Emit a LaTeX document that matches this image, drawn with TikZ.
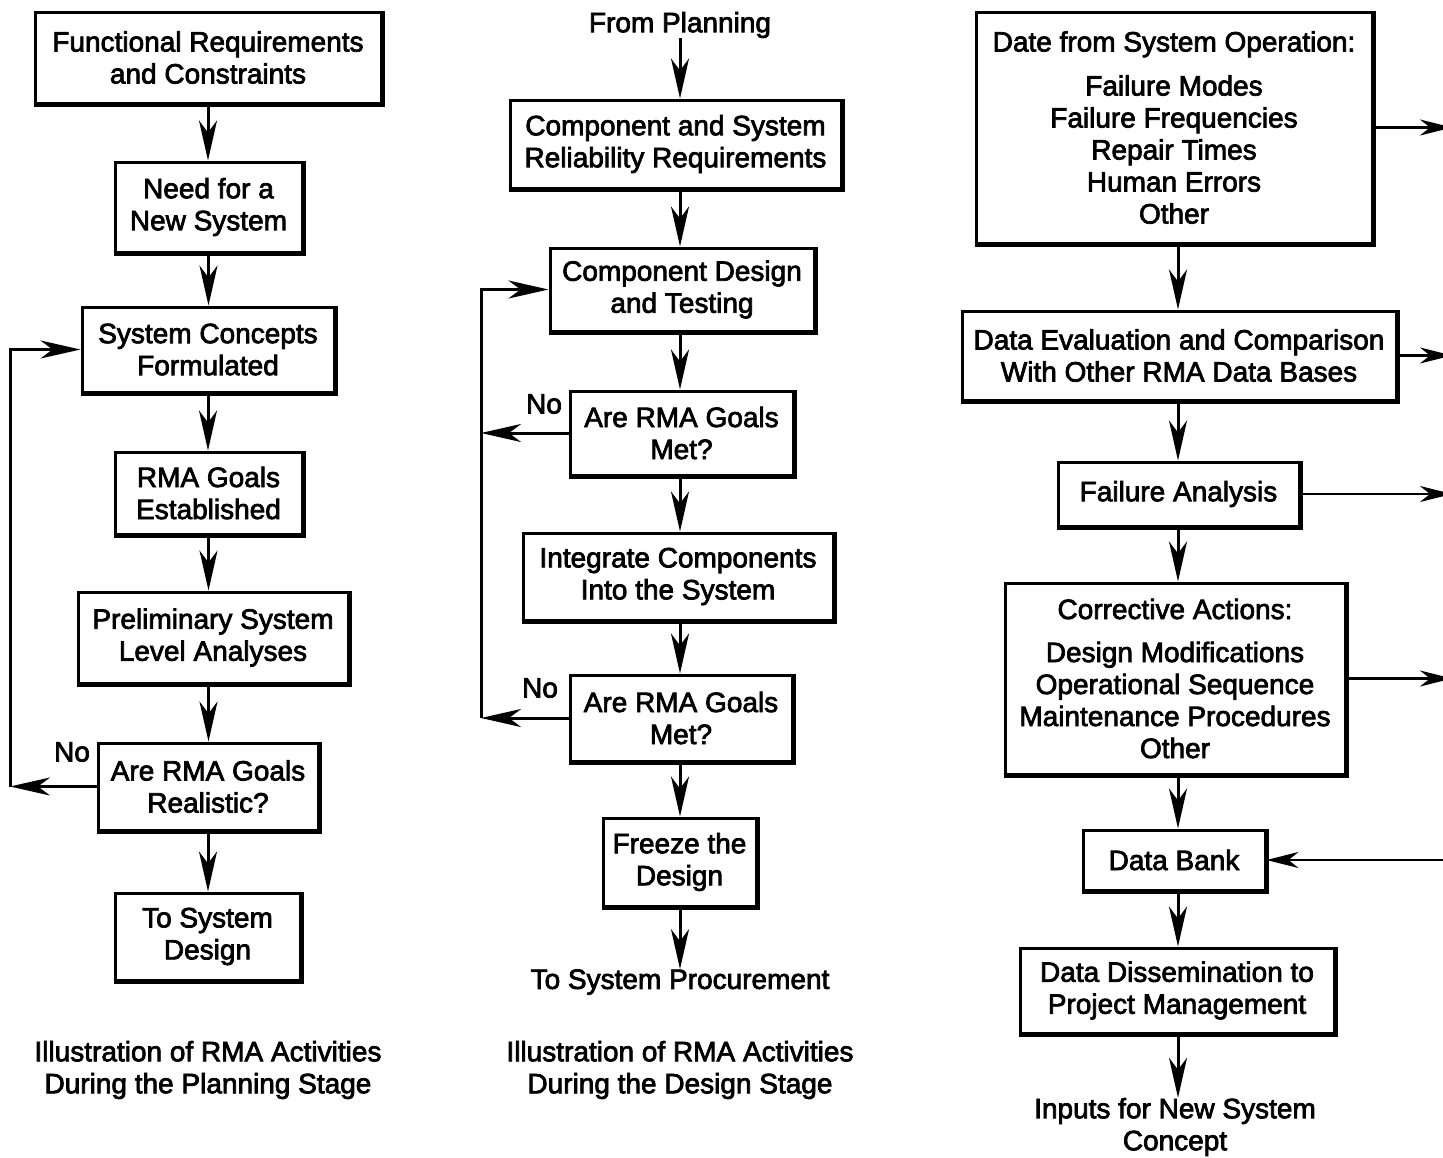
\documentclass[tikz,border=0pt]{standalone}
\usepackage{fontspec}
\setmainfont{Liberation Sans}[FakeBold=2.6]
\usetikzlibrary{arrows.meta}
\begin{document}
\begin{tikzpicture}[x=1pt,y=-1pt,
  font=\fontsize{28}{32}\selectfont,
  box/.style={draw, line width=3pt, align=center, inner sep=0pt},
  arr/.style={line width=3pt, -{Stealth[length=40pt,width=18pt,inset=12pt]}},
  harr/.style={line width=2.6pt, -{Stealth[length=32pt,width=16pt,inset=10pt]}},
  lbl/.style={align=center, inner sep=0pt}]
\useasboundingbox (0,0) rectangle (1443,1157);

% ---------- left column ----------
\node[box,minimum width=346pt,minimum height=91pt] (fr) at (208,57.5) {Functional Requirements\\and Constraints};
\node[box,minimum width=187pt,minimum height=90pt] (need) at (208.5,207) {Need for a\\New System};
\node[box,minimum width=252pt,minimum height=85pt] (sys) at (208,349.5) {System Concepts\\Formulated};
\node[box,minimum width=187pt,minimum height=82pt] (goals) at (208.5,493) {RMA Goals\\Established};
\node[box,minimum width=270pt,minimum height=91pt] (prelim) at (213,637.5) {Preliminary System\\Level Analyses};
\node[box,minimum width=220pt,minimum height=87pt] (real) at (208,786.5) {Are RMA Goals\\Realistic?};
\node[box,minimum width=185pt,minimum height=87pt] (tosys) at (207.5,936.5) {To System\\Design};
\node[lbl] (no1) at (72,752) {No};
\node[lbl] (cap1) at (208,1070) {Illustration of RMA Activities\\During the Planning Stage};
\coordinate (lx) at (10,0);

\draw[arr] (fr.south) -- (fr.south |- need.north);
\draw[arr] (need.south) -- (need.south |- sys.north);
\draw[arr] (sys.south) -- (sys.south |- goals.north);
\draw[arr] (goals.south) -- (goals.south |- prelim.north);
\draw[arr] (goals.south |- prelim.south) -- (goals.south |- real.north);
\draw[arr] (real.south) -- (real.south |- tosys.north);
\draw[arr] (real.west) -- (real.west -| lx);
\draw[arr] (real.west -| lx) |- (sys.west);

% ---------- middle column ----------
\node[lbl] (fromp) at (680,25) {From Planning};
\node[box,minimum width=331pt,minimum height=88pt] (csr) at (675.5,144) {Component and System\\Reliability Requirements};
\node[box,minimum width=264pt,minimum height=83pt] (cdt) at (682,289.5) {Component Design\\and Testing};
\node[box,minimum width=223pt,minimum height=84pt] (met1) at (681.5,433) {Are RMA Goals\\Met?};
\node[box,minimum width=310pt,minimum height=87pt] (integ) at (678,576.5) {Integrate Components\\Into the System};
\node[box,minimum width=222pt,minimum height=86pt] (met2) at (681,718) {Are RMA Goals\\Met?};
\node[box,minimum width=153pt,minimum height=88pt] (freeze) at (679.5,862) {Freeze the\\Design};
\node[lbl] (proc) at (680,982) {To System Procurement};
\node[lbl] (no2) at (544,404) {No};
\node[lbl] (no3) at (540,688) {No};
\node[lbl] (cap2) at (680,1070) {Illustration of RMA Activities\\During the Design Stage};
\coordinate (mx) at (481,0);
\coordinate (mc) at (680,0);

\draw[arr] (fromp.south -| mc) -- (csr.north -| mc);
\draw[arr] (csr.south -| mc) -- (cdt.north -| mc);
\draw[arr] (cdt.south -| mc) -- (met1.north -| mc);
\draw[arr] (met1.south -| mc) -- (integ.north -| mc);
\draw[arr] (integ.south -| mc) -- (met2.north -| mc);
\draw[arr] (met2.south -| mc) -- (freeze.north -| mc);
\draw[arr] (freeze.south -| mc) -- (proc.north -| mc);
\draw[arr] (met1.west) -- (met1.west -| mx);
\draw[arr] (met2.west) -- (met2.west -| mx);
\draw[arr] (met2.west -| mx) |- (cdt.west);

% ---------- right column ----------
\node[box,minimum width=396pt,minimum height=231pt] (dso) at (1174,127.5) {Date from System Operation:\\[12pt]Failure Modes\\Failure Frequencies\\Repair Times\\Human Errors\\Other};
\node[box,minimum width=434pt,minimum height=89pt] (dec) at (1179,355.5) {Data Evaluation and Comparison\\With Other RMA Data Bases};
\node[box,minimum width=241pt,minimum height=64pt] (fa) at (1178.5,494) {Failure Analysis};
\node[box,minimum width=340pt,minimum height=191pt] (ca) at (1175,678.5) {Corrective Actions:\\[11pt]Design Modifications\\Operational Sequence\\Maintenance Procedures\\Other};
\node[box,minimum width=182pt,minimum height=60pt] (db) at (1174,860) {Data Bank};
\node[box,minimum width=314pt,minimum height=85pt] (ddpm) at (1177,990.5) {Data Dissemination to\\Project Management};
\node[lbl] (inp) at (1175,1127) {Inputs for New System\\Concept};
\coordinate (rx) at (1178,0);
\coordinate (edge) at (1452,0);

\draw[arr] (dso.south -| rx) -- (dec.north -| rx);
\draw[arr] (dec.south -| rx) -- (fa.north -| rx);
\draw[arr] (fa.south -| rx) -- (ca.north -| rx);
\draw[arr] (ca.south -| rx) -- (db.north -| rx);
\draw[arr] (db.south -| rx) -- (ddpm.north -| rx);
\draw[arr] (ddpm.south -| rx) -- (inp.north -| rx);
\draw[harr] (dso.east) -- (dso.east -| edge);
\draw[harr] (dec.east) -- (dec.east -| edge);
\draw[harr] (fa.east) -- (fa.east -| edge);
\draw[harr] (ca.east) -- (ca.east -| edge);
\draw[harr] (db.east -| edge) -- (db.east);

% heavier bottom and right edges of the boxes
\foreach \n in {fr,need,sys,goals,prelim,real,tosys,csr,cdt,met1,integ,met2,freeze,dso,dec,fa,ca,db,ddpm}
  \draw[line width=4.2pt] (\n.south west) -- (\n.south east) -- (\n.north east);
\end{tikzpicture}
\end{document}
